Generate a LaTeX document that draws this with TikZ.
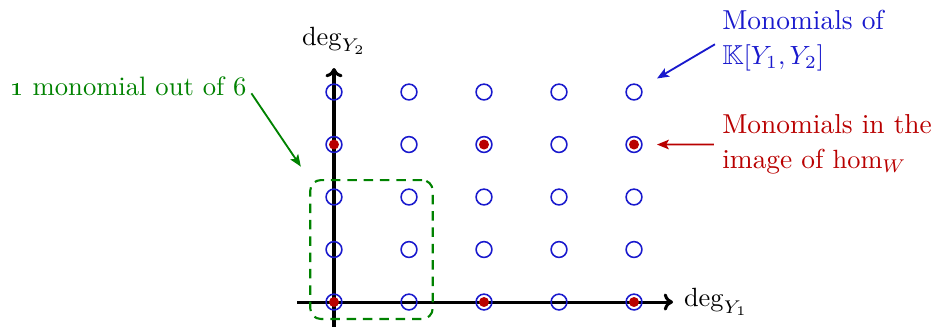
\documentclass[tikz,border=0pt]{standalone}
\usepackage{amsmath,amssymb}
\usepackage{xcolor}
\usepackage{tikz}
\usetikzlibrary{positioning,arrows.meta,fit}
\definecolor{monoblue}{RGB}{25,25,205}
\definecolor{imagered}{RGB}{185,0,0}
\definecolor{boxgreen}{RGB}{0,130,0}
\tikzset{
  mono-node/.style={circle, draw=monoblue, line width=0.6pt, minimum size=6pt,
    inner sep=0pt},
  image-dot/.style={circle, fill=imagered, minimum size=3.8pt, inner sep=0pt},
  axis-arrow/.style={-{To[length=3.5pt, width=6.5pt]}, line width=1.15pt, draw=black},
  axis-label/.style={font=\fontsize{10.4}{13.3}\selectfont, inner sep=3pt},
  note-text/.style={font=\fontsize{10.4}{13.3}\selectfont, align=left, inner sep=0pt},
  note-arrow/.style={-{Stealth[length=4.5pt, width=3.6pt, inset=1pt]}, line width=0.7pt},
  window-box/.style={draw=boxgreen, line width=0.8pt, dash pattern=on 3.6pt off 2.6pt,
    rounded corners=4pt, inner xsep=0.2cm, inner ysep=0.11cm}
}
\begin{document}
\begin{tikzpicture}
\useasboundingbox (-4.453,-0.387) rectangle (8.133,4.027);
% axes
\coordinate (x-start) at (-0.49,0);
\coordinate (x-end) at (4.52,0);
\coordinate (y-start) at (0,-0.33);
\coordinate (y-end) at (0,3.12);
\draw[axis-arrow] (x-start) -- (x-end);
\draw[axis-arrow] (y-start) -- (y-end);
\node[axis-label, right=1pt of x-end] (deg-one) {$\deg_{Y_1}$};
\node[axis-label, above=2pt of y-end] (deg-two) {$\deg_{Y_2}$};
% monomials
\foreach \i in {0,...,4}
  \foreach \j in {0,...,4}
    \node[mono-node] (p-\i-\j) at (\i, 0.7*\j) {};
\foreach \i/\j in {0/0, 2/0, 4/0, 0/3, 2/3, 4/3}
  \node[image-dot] at (p-\i-\j) {};
% window of 6 monomials
\node[window-box, fit=(p-0-0)(p-1-2)] (window) {};
% notes
\node[note-text, text=boxgreen, anchor=east, font=\fontsize{10.1}{13}\selectfont]
  (green-note) at (-1.16, 2.87) {\oldstylenums{1} monomial out of 6};
\node[note-text, text=monoblue, anchor=west] (blue-note) at (5.17, 3.49)
  {Monomials of\\$\mathbb{K}[Y_1, Y_2]$};
\node[note-text, text=imagered, anchor=west] (red-note) at (5.17, 2.1)
  {Monomials in the\\image of $\hom_W$};
\draw[note-arrow, draw=boxgreen, shorten <=3pt, shorten >=2mm] (green-note.east) -- (window.north west);
\draw[note-arrow, draw=monoblue, shorten <=3pt, shorten >=2.4mm] (blue-note.west) -- (p-4-4);
\draw[note-arrow, draw=imagered, shorten <=3pt, shorten >=1.9mm] (red-note.west) -- (p-4-3);
\end{tikzpicture}
\end{document}
